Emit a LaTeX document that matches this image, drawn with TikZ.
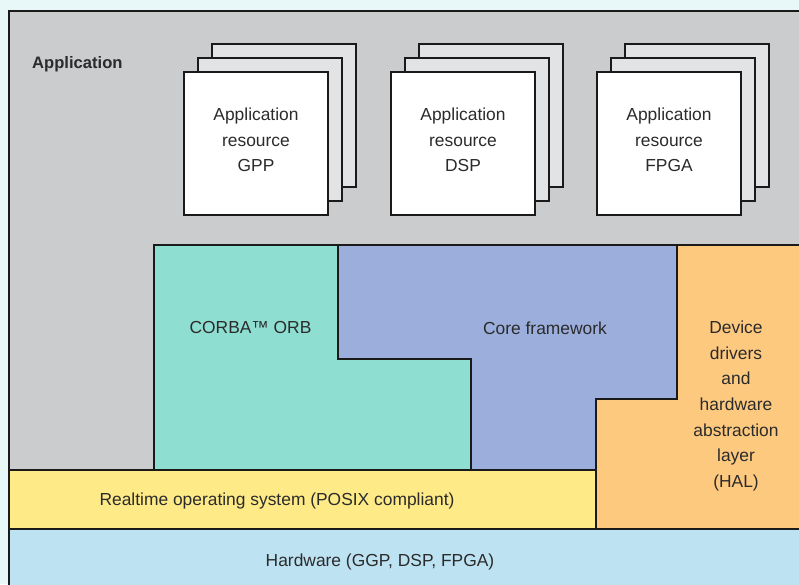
\documentclass[tikz,border=0pt]{standalone}
\usepackage{fontspec}
\setmainfont{Liberation Sans}
\definecolor{bgout}{HTML}{E8F7F7}
\definecolor{appgray}{HTML}{CBCCCE}
\definecolor{backbox}{HTML}{E2E3E5}
\definecolor{corbac}{HTML}{8EDFD2}
\definecolor{corec}{HTML}{9BAEDC}
\definecolor{devc}{HTML}{FDC97E}
\definecolor{rtosc}{HTML}{FEEB87}
\definecolor{hwc}{HTML}{BDE2F2}
\definecolor{linec}{HTML}{1A1A1A}
\definecolor{txtc}{HTML}{2B2B2B}
\tikzset{
  outl/.style={draw=linec, line width=2.2pt, line join=miter},
  lbl/.style={text=txtc, align=center, font=\fontsize{17.4}{25.6}\selectfont, inner sep=0pt},
  stackbox/.style={outl, fill=backbox},
  frontbox/.style={outl, fill=white},
}
\begin{document}
\begin{tikzpicture}[x=1pt,y=-1pt]
\useasboundingbox (0,0) rectangle (799,584);
\fill[bgout] (0,0) rectangle (799,584);
\begin{scope}
\clip (0,0) rectangle (799,584);
% application area
\draw[outl, fill=appgray] (9,11) rectangle (815,600);
% resource stacks
\foreach \x/\n in {184/gpp, 391/dsp, 597/fpga}{
  \draw[stackbox] (\x+28,44) rectangle (\x+28+144,187);
  \draw[stackbox] (\x+14,58) rectangle (\x+14+144,201);
  \draw[frontbox] (\x,72) rectangle (\x+144,215);
}
% CORBA
\draw[outl, fill=corbac] (154,245) -- (338,245) -- (338,359) -- (471,359) -- (471,470) -- (154,470) -- cycle;
% Core framework
\draw[outl, fill=corec] (338,245) -- (677,245) -- (677,399) -- (596,399) -- (596,470) -- (471,470) -- (471,359) -- (338,359) -- cycle;
% Device drivers
\draw[outl, fill=devc] (677,245) -- (815,245) -- (815,529) -- (596,529) -- (596,399) -- (677,399) -- cycle;
% RTOS
\draw[outl, fill=rtosc] (9,470) rectangle (596,529);
% Hardware
\draw[outl, fill=hwc] (9,529) rectangle (815,600);
\end{scope}
% labels
\node[lbl, font=\bfseries\fontsize{16.6}{20}\selectfont, anchor=west] (app) at (32,64) {Application};
\node[lbl] (gpp) at (256,140) {Application\\resource\\GPP};
\node[lbl] (dsp) at (463,140) {Application\\resource\\DSP};
\node[lbl] (fpga) at (669,140) {Application\\resource\\FPGA};
\node[lbl] (corba) at (250.5,328) {CORBA™ ORB};
\node[lbl] (core) at (545,328) {Core framework};
\node[lbl] (dev) at (736,406) {Device\\drivers\\and\\hardware\\abstraction\\layer\\(HAL)};
\node[lbl] (rtos) at (277,501) {Realtime operating system (POSIX compliant)};
\node[lbl] (hw) at (380,562) {Hardware (GGP, DSP, FPGA)};
\end{tikzpicture}
\end{document}
